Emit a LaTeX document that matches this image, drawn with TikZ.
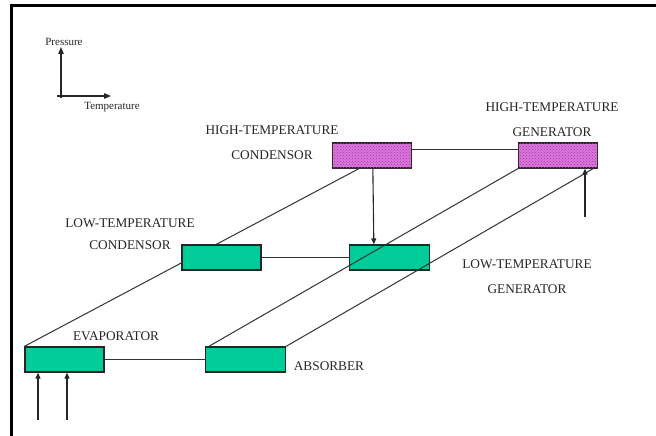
\documentclass[tikz,border=0pt]{standalone}
\usepackage{fontspec}
\setmainfont{Liberation Serif}
\usetikzlibrary{arrows.meta,patterns,calc}

\definecolor{unitgreen}{RGB}{0,204,153}
\definecolor{unitpink}{RGB}{218,118,218}
\definecolor{unitdots}{RGB}{165,55,170}

\tikzset{
  unit/.style={draw=black!85, line width=1.3pt, minimum width=79pt,
    minimum height=25pt, inner sep=0pt},
  lowunit/.style={unit, fill=unitgreen},
  highunit/.style={unit, fill=unitpink, postaction={pattern=crosshatch dots,
    pattern color=unitdots}},
  pipe/.style={draw=black!80, line width=1pt},
  flow/.style={draw=black!85, line width=1.1pt,
    -{Triangle[length=6pt,width=5pt]}},
  axis/.style={draw=black!85, line width=1.1pt,
    -{Triangle[length=7pt,width=5.5pt]}},
  lbl/.style={font=\fontsize{13.3}{25}\selectfont, text=black!85,
    align=center, inner sep=0pt},
  small/.style={font=\fontsize{11}{13}\selectfont, text=black!85,
    inner sep=0pt},
}

\begin{document}
\begin{tikzpicture}[x=1pt,y=-1pt]
\useasboundingbox (0,0) rectangle (656,436);

% frame: top and left edges only
\draw[line width=3pt] (656,5.5) -- (11,5.5) -- (11,436);

% pressure / temperature axes
\coordinate (vstart) at (61,98);
\coordinate (vtip) at (61,47);
\coordinate (hstart) at (57,96);
\coordinate (htip) at (111,96);
\draw[axis] (vstart) -- (vtip);
\draw[axis] (hstart) -- (htip);
\node[small] (pres) at (64,42) {Pressure};
\node[small] (temp) at (112,107) {Temperature};

% units
\node[highunit] (htc) at (372,155.5) {};
\node[highunit] (htg) at (558,155.5) {};
\node[lowunit, minimum width=80pt] (ltg) at (389.5,257.5) {};
\node[lowunit, minimum width=80pt] (abs) at (245.5,359.5) {};
\node[lowunit] (evp) at (64.5,359.5) {};

% diagonal line passing behind the low-temperature condensor
\draw[pipe] (evp.north west) -- ([xshift=27pt]htc.south west);
\node[lowunit] (ltc) at (221.5,257.5) {};

% diagonal lines from the absorber to the high-temperature generator
\draw[pipe] ([xshift=4pt]abs.north west) -- (htg.south west);
\draw[pipe] (abs.north east) -- ([xshift=-5pt]htg.south east);

% horizontal links
\draw[pipe] ([yshift=6.5pt]htc.east) -- ([yshift=6.5pt]htg.west);
\draw[pipe] (ltc.east) -- (ltg.west);
\draw[pipe] (evp.east) -- (abs.west);

% flows
\draw[flow] ([xshift=41pt]htc.south west) -- ([xshift=25pt]ltg.north west);
\coordinate (gin) at (585,217);
\draw[flow] (gin) -- (gin |- htg.south);
\coordinate (ein1) at (38,420);
\coordinate (ein2) at (67,420);
\draw[flow] (ein1) -- (ein1 |- evp.south);
\draw[flow] (ein2) -- (ein2 |- evp.south);

% labels
\node[lbl] (htcl) at (272,142.5) {HIGH-TEMPERATURE\\CONDENSOR};
\node[lbl] (htgl) at (552,120) {HIGH-TEMPERATURE\\GENERATOR};
\node[lbl, font=\fontsize{13.3}{22}\selectfont] (ltcl) at (130,234)
  {LOW-TEMPERATURE\\CONDENSOR};
\node[lbl] (ltgl) at (527,277) {LOW-TEMPERATURE\\GENERATOR};
\node[lbl] (evpl) at (116,336) {EVAPORATOR};
\node[lbl] (absl) at (329,366) {ABSORBER};
\end{tikzpicture}
\end{document}
